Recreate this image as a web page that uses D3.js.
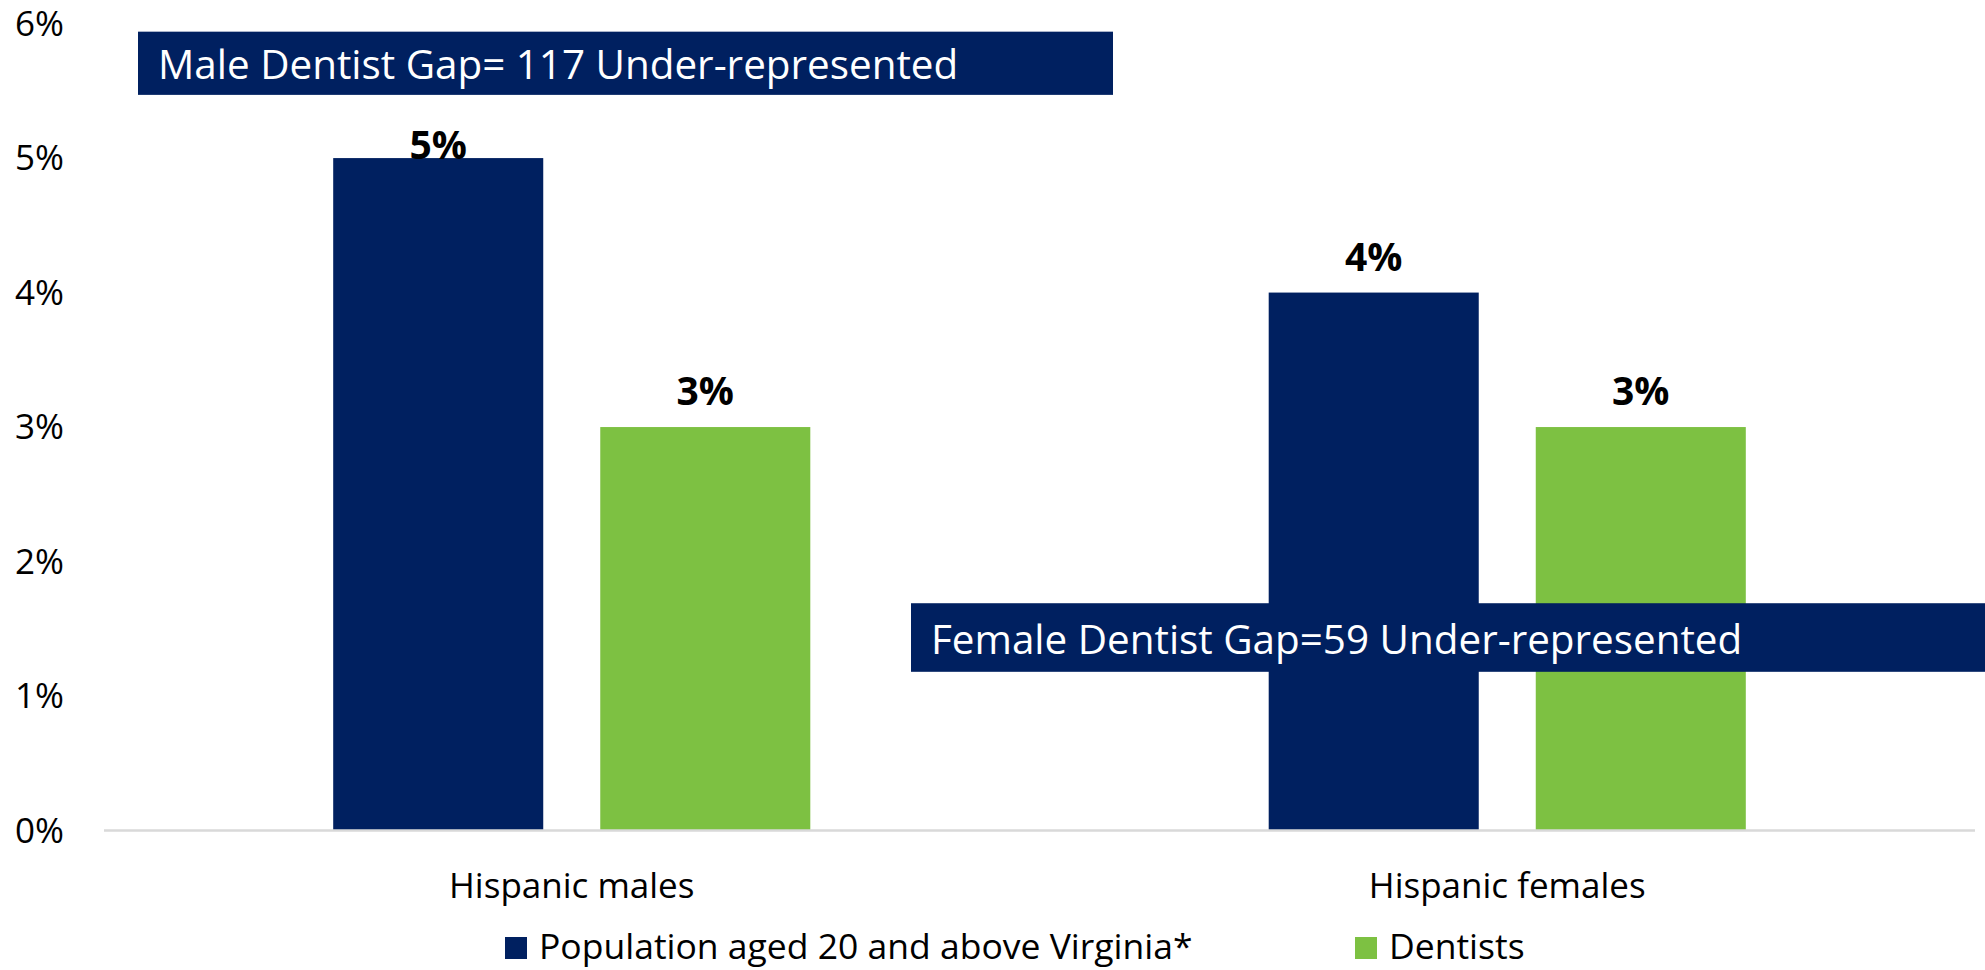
<!DOCTYPE html>
<html>
<head>
<meta charset="utf-8">
<script src="https://cdn.jsdelivr.net/npm/d3@7"></script>
<style>
  body { margin: 0; background: #fff; }
  text { font-family: "Open Sans", "Noto Sans", sans-serif; }
</style>
</head>
<body>
<script>
var categories = ["Hispanic males", "Hispanic females"];
var seriesNames = ["Population aged 20 and above Virginia*", "Dentists"];
var population = [5, 4];
var dentists = [3, 3];
var yTicks = [0, 1, 2, 3, 4, 5, 6];
var notes = [
  {text: "Male Dentist Gap= 117 Under-represented", top: 5.94, bottom: 5.47},
  {text: "Female Dentist Gap=59 Under-represented", top: 1.69, bottom: 1.18}
];

var colors = ["#002060", "#7DC142"];

var rows = categories.map(function(c, i){
  return {cat: c, values: [population[i], dentists[i]]};
});

var svg = d3.select("body").append("svg")
    .attr("width", 1985)
    .attr("height", 970);

var plotLeft = 104, plotRight = 1975, plotTop = 23.6, plotBottom = 830.5;

var y = d3.scaleLinear().domain([0, 6]).range([plotBottom, plotTop]);

var x0 = d3.scaleBand()
    .domain(categories)
    .range([plotLeft, plotRight])
    .paddingInner(0.49)
    .paddingOuter(0.245);

var x1 = d3.scaleBand()
    .domain([0, 1])
    .range([0, x0.bandwidth()])
    .paddingInner(0.2135);

// y labels
svg.selectAll("text.ytick")
    .data(yTicks)
    .enter().append("text")
    .attr("class", "ytick")
    .attr("x", 64)
    .attr("y", function(d){ return y(d) + 12; })
    .attr("text-anchor", "end")
    .attr("font-size", 35)
    .attr("fill", "#000")
    .text(function(d){ return d + "%"; });

// bars
var groups = svg.selectAll("g.cat")
    .data(rows)
    .enter().append("g")
    .attr("class", "cat")
    .attr("transform", function(d){ return "translate(" + x0(d.cat) + ",0)"; });

groups.selectAll("rect")
    .data(function(d){ return d.values; })
    .enter().append("rect")
    .attr("x", function(d, i){ return x1(i); })
    .attr("y", function(d){ return y(d); })
    .attr("width", x1.bandwidth())
    .attr("height", function(d){ return plotBottom - y(d); })
    .attr("fill", function(d, i){ return colors[i]; });

// axis line
svg.append("line")
    .attr("x1", plotLeft)
    .attr("x2", plotRight)
    .attr("y1", plotBottom)
    .attr("y2", plotBottom)
    .attr("stroke", "#d9d9d9")
    .attr("stroke-width", 2.5);

// category labels
svg.selectAll("text.cat")
    .data(categories)
    .enter().append("text")
    .attr("class", "cat")
    .attr("x", function(d){ return x0(d) + x0.bandwidth() / 2; })
    .attr("y", 898)
    .attr("text-anchor", "middle")
    .attr("font-size", 35)
    .text(function(d){ return d; });

// annotation boxes
var noteX = [138, 911];
var noteRight = [1113, 1985];
notes.forEach(function(n, i){
  svg.append("rect")
      .attr("x", noteX[i])
      .attr("y", y(n.top))
      .attr("width", noteRight[i] - noteX[i])
      .attr("height", y(n.bottom) - y(n.top))
      .attr("fill", "#002060");
  svg.append("text")
      .attr("x", noteX[i] + 20)
      .attr("y", (y(n.top) + y(n.bottom)) / 2 + 16)
      .attr("font-size", 40.4)
      .attr("fill", "#fff")
      .text(n.text);
});

// value labels
groups.selectAll("text.val")
    .data(function(d){ return d.values; })
    .enter().append("text")
    .attr("class", "val")
    .attr("x", function(d, i){ return x1(i) + x1.bandwidth() / 2; })
    .attr("y", function(d){ return Math.max(y(d) - 22, y(5.47) + 64); })
    .attr("text-anchor", "middle")
    .attr("font-size", 39)
    .attr("font-weight", "bold")
    .attr("fill", "#000")
    .text(function(d){ return d + "%"; });

// legend
var legendX = [505, 1355];
var legend = svg.selectAll("g.legend")
    .data(seriesNames)
    .enter().append("g")
    .attr("class", "legend")
    .attr("transform", function(d, i){ return "translate(" + legendX[i] + ",937)"; });

legend.append("rect")
    .attr("width", 22)
    .attr("height", 22)
    .attr("fill", function(d, i){ return colors[i]; });

legend.append("text")
    .attr("x", 34)
    .attr("y", 22)
    .attr("font-size", 35.5)
    .text(function(d){ return d; });
</script>
</body>
</html>
